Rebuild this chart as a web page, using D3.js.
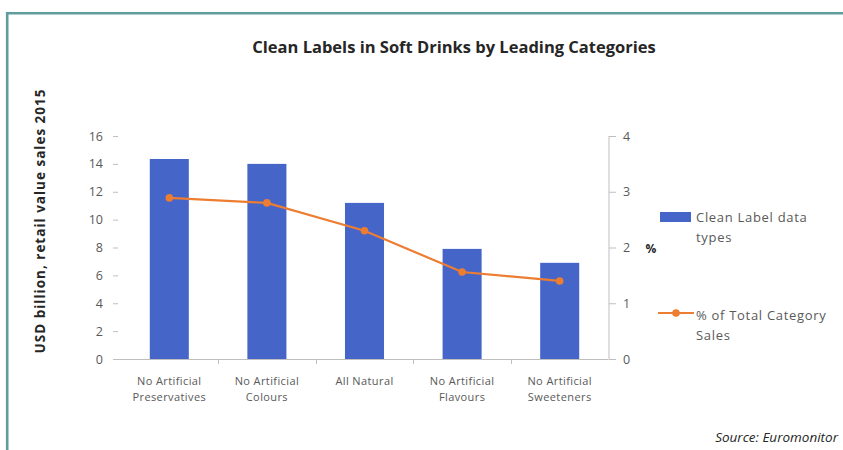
<!DOCTYPE html>
<html>
<head>
<meta charset="utf-8">
<script src="https://cdn.jsdelivr.net/npm/d3@7"></script>
<style>
  html, body { margin: 0; padding: 0; background: #fff; }
  svg { display: block; }
  text { font-family: "Open Sans", "Noto Sans", sans-serif; }
</style>
</head>
<body>
<svg id="chart" width="843" height="450"></svg>
<script>
// Leading clean-label categories in soft drinks
const categories = [
  ["No Artificial", "Preservatives"],
  ["No Artificial", "Colours"],
  ["All Natural"],
  ["No Artificial", "Flavours"],
  ["No Artificial", "Sweeteners"]
];
const categoryKeys = categories.map(c => c.join(" "));
// Retail value sales 2015, USD billion
const salesValues = [14.35, 14.0, 11.2, 7.9, 6.9];
// Share of total category sales, %
const shareValues = [2.89, 2.80, 2.30, 1.56, 1.40];
const leftTicks = [0, 2, 4, 6, 8, 10, 12, 14, 16];
const rightTicks = [0, 1, 2, 3, 4];

const svg = d3.select("#chart");
const textColor = "#595959";
const axisColor = "#bfbfbf";
const barColor = "#4565c9";
const lineColor = "#ed7d31";

// Teal frame (top and left edges)
svg.append("line").attr("x1", 7).attr("x2", 843).attr("y1", 13.2).attr("y2", 13.2)
  .attr("stroke", "#5f9e9c").attr("stroke-width", 2.6);
svg.append("line").attr("x1", 7.2).attr("x2", 7.2).attr("y1", 12).attr("y2", 450)
  .attr("stroke", "#5f9e9c").attr("stroke-width", 2.6);

// Title
svg.append("text").attr("x", 454).attr("y", 53).attr("text-anchor", "middle")
  .attr("font-size", 16.5).attr("font-weight", 700).attr("fill", "#262626")
  .text("Clean Labels in Soft Drinks by Leading Categories");

const plotLeft = 120.5, plotRight = 608.5, plotTop = 136, plotBottom = 359;

const x = d3.scaleBand().domain(categoryKeys).range([plotLeft, plotRight])
  .paddingInner(0.6).paddingOuter(0.3);
const yLeft = d3.scaleLinear().domain([0, 16]).range([plotBottom, plotTop]);
const yRight = d3.scaleLinear().domain([0, 4]).range([plotBottom, plotTop]);

// Left axis: tick marks and labels only
const gLeft = svg.append("g").attr("transform", `translate(${118},0)`)
  .call(d3.axisLeft(yLeft).tickValues(leftTicks).tickSize(5).tickPadding(10).tickFormat(d3.format("d")));
gLeft.select(".domain").remove();
gLeft.selectAll(".tick line").attr("stroke", axisColor);
gLeft.selectAll(".tick text").attr("fill", textColor).attr("font-size", 12.5)
  .attr("font-family", "'Open Sans', sans-serif");

// Left axis title
svg.append("text")
  .attr("transform", `translate(45,${221}) rotate(-90)`)
  .attr("text-anchor", "middle").attr("font-size", 13.5).attr("font-weight", 700)
  .attr("letter-spacing", 1).attr("fill", "#262626")
  .text("USD billion, retail value sales 2015");

// Right axis
const gRight = svg.append("g").attr("transform", `translate(${609},0)`)
  .call(d3.axisRight(yRight).tickValues(rightTicks).tickSize(7).tickPadding(7).tickFormat(d3.format("d")));
gRight.select(".domain").attr("stroke", axisColor).attr("d", `M0,${plotTop}V${plotBottom}`);
gRight.selectAll(".tick line").attr("stroke", axisColor);
gRight.selectAll(".tick text").attr("fill", textColor).attr("font-size", 12.5)
  .attr("font-family", "'Open Sans', sans-serif");

svg.append("text").attr("x", 651).attr("y", 253).attr("text-anchor", "middle")
  .attr("font-size", 12).attr("font-weight", 700).attr("fill", "#262626").text("%");

// Bars
svg.append("g").selectAll("rect").data(salesValues).join("rect")
  .attr("x", (d, i) => x(categoryKeys[i]))
  .attr("y", d => yLeft(d))
  .attr("width", x.bandwidth())
  .attr("height", d => yLeft(0) - yLeft(d))
  .attr("fill", barColor);

// Category axis baseline and boundary ticks
svg.append("line").attr("x1", 115).attr("x2", plotRight).attr("y1", plotBottom + 0.5).attr("y2", plotBottom + 0.5)
  .attr("stroke", axisColor);
const boundaries = categoryKeys.slice(1).map(k => x(k) - x.step() * x.paddingInner() / 2);
svg.append("g").selectAll("line").data(boundaries).join("line")
  .attr("x1", d => Math.round(d) + 0.5).attr("x2", d => Math.round(d) + 0.5)
  .attr("y1", plotBottom).attr("y2", plotBottom + 5)
  .attr("stroke", axisColor);

// Category labels
const catLabels = svg.append("g").selectAll("text").data(categories).join("text")
  .attr("x", (d, i) => x(categoryKeys[i]) + x.bandwidth() / 2)
  .attr("y", 385)
  .attr("text-anchor", "middle").attr("font-size", 11).attr("letter-spacing", 0.4)
  .attr("fill", textColor);
catLabels.selectAll("tspan").data(d => d).join("tspan")
  .attr("x", function () { return d3.select(this.parentNode).attr("x"); })
  .attr("dy", (d, i) => i === 0 ? 0 : 16)
  .text(d => d);

// Share line with markers
const center = i => x(categoryKeys[i]) + x.bandwidth() / 2;
const line = d3.line().x((d, i) => center(i)).y(d => yRight(d));
svg.append("path").datum(shareValues).attr("d", line)
  .attr("fill", "none").attr("stroke", lineColor).attr("stroke-width", 2.2);
svg.append("g").selectAll("circle").data(shareValues).join("circle")
  .attr("cx", (d, i) => center(i)).attr("cy", d => yRight(d)).attr("r", 3.8)
  .attr("fill", lineColor);

// Legend
const legend = svg.append("g");
legend.append("rect").attr("x", 660).attr("y", 212).attr("width", 31).attr("height", 10).attr("fill", barColor);
legend.append("text").attr("x", 696).attr("y", 222).attr("font-size", 13).attr("letter-spacing", 0.7)
  .attr("fill", textColor)
  .selectAll("tspan").data(["Clean Label data", "types"]).join("tspan")
  .attr("x", 696).attr("dy", (d, i) => i === 0 ? 0 : 20).text(d => d);
legend.append("line").attr("x1", 658).attr("x2", 694).attr("y1", 313).attr("y2", 313)
  .attr("stroke", lineColor).attr("stroke-width", 2.2);
legend.append("circle").attr("cx", 676).attr("cy", 313).attr("r", 3.8).attr("fill", lineColor);
legend.append("text").attr("x", 696).attr("y", 320).attr("font-size", 13).attr("letter-spacing", 0.7)
  .attr("fill", textColor)
  .selectAll("tspan").data(["% of Total Category", "Sales"]).join("tspan")
  .attr("x", 696).attr("dy", (d, i) => i === 0 ? 0 : 20).text(d => d);

// Source note
svg.append("text").attr("x", 838).attr("y", 442).attr("text-anchor", "end")
  .attr("font-size", 13.5).attr("font-style", "italic").attr("fill", "#262626")
  .text("Source: Euromonitor");
</script>
</body>
</html>
